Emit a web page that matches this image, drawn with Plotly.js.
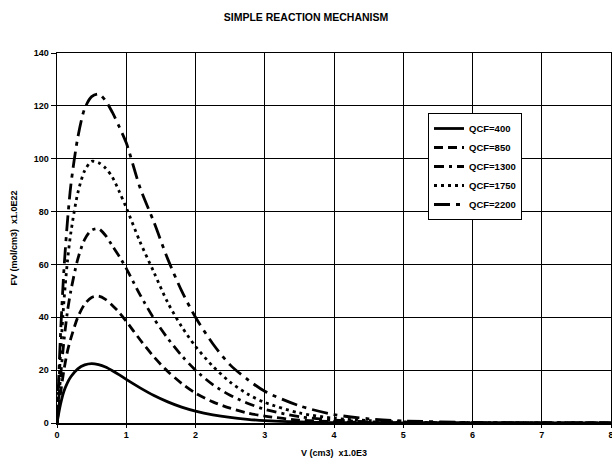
<!DOCTYPE html>
<html>
<head>
<meta charset="utf-8">
<script src="https://cdn.plot.ly/plotly-3.0.1.min.js"></script>
<style>html,body{margin:0;padding:0;background:#fff;}#chart{width:612px;height:464px;}</style>
</head>
<body>
<div id="chart"></div>
<script>
// V (cm3) x1.0E3
const V = [0, 0.05, 0.1, 0.15, 0.2, 0.3, 0.4, 0.5, 0.6, 0.7, 0.8, 0.9, 1.0, 1.2, 1.4, 1.6, 1.8, 2.0, 2.25, 2.5, 2.75, 3.0, 3.5, 4.0, 4.5, 5.0, 6.0, 7.0, 8.0];
// FV (mol/cm3) x1.0E22
const qcf400  = [0, 7, 12, 15.2, 17.5, 20.5, 22, 22.5, 22.1, 21.2, 19.8, 18.2, 16.5, 13.3, 10.4, 8.0, 6.0, 4.5, 3.1, 2.1, 1.4, 0.9, 0.4, 0.16, 0.07, 0.03, 0, 0, 0];
const qcf850  = [0, 11, 20, 27, 32, 40, 45, 47.5, 48, 46.8, 44.5, 41.8, 38.5, 31.5, 25, 19.5, 15, 11.3, 8, 5.6, 3.8, 2.6, 1.1, 0.5, 0.2, 0.1, 0, 0, 0];
const qcf1300 = [0, 17, 31, 42, 50, 62, 69.5, 73, 73.5, 71, 67, 63, 58.5, 48.5, 39.5, 32, 25.5, 20, 14.5, 10.5, 7.5, 5.2, 2.4, 1.1, 0.5, 0.2, 0.05, 0, 0];
const qcf1750 = [0, 26, 46, 61, 72, 87, 95.5, 99, 98.5, 96.5, 93, 87.5, 81.5, 68.5, 57, 45.5, 36.5, 29, 21.5, 15.5, 11, 7.8, 3.8, 1.8, 0.9, 0.4, 0.1, 0, 0];
const qcf2200 = [0, 33, 58, 76, 90, 108, 119, 123.5, 124.5, 122, 117.5, 112, 106, 89, 76, 62, 50, 40, 30, 22, 16.5, 12, 6.5, 3.2, 1.6, 0.8, 0.2, 0.05, 0];
const seriesNames = ["QCF=400", "QCF=850", "QCF=1300", "QCF=1750", "QCF=2200"];
const xTicks = [0, 1, 2, 3, 4, 5, 6, 7, 8];
const yTicks = [0, 20, 40, 60, 80, 100, 120, 140];

const dashes = ["solid", "9px,5px", "10px,5px,3px,5px", "3px,4px", "16px,6px,4px,6px"];
const ys = [qcf400, qcf850, qcf1300, qcf1750, qcf2200];
const FONT = "Liberation Sans, Arial, sans-serif";

const traces = ys.map((y, i) => ({
  x: V, y: y, name: seriesNames[i], type: "scatter", mode: "lines",
  line: {color: "#000", width: 2.8, dash: dashes[i], shape: "spline", smoothing: 0.8}
}));

const layout = {
  width: 612, height: 464,
  margin: {l: 57, r: 1, t: 53, b: 41, pad: 0, autoexpand: false},
  paper_bgcolor: "#fff", plot_bgcolor: "#fff",
  font: {family: FONT, color: "#000", size: 9, weight: "bold"},
  title: {text: "<b>SIMPLE REACTION MECHANISM</b>", font: {family: FONT, size: 10.5, color: "#000"},
          x: 0.5, xanchor: "center", y: 1 - 17/464, yanchor: "middle", yref: "container"},
  xaxis: {range: [0, 8], tickvals: xTicks, ticktext: xTicks.map(String),
          showgrid: true, gridcolor: "#000", gridwidth: 1,
          showline: true, linecolor: "#000", linewidth: 1.5, mirror: true,
          ticks: "outside", ticklen: 3, tickwidth: 1, tickcolor: "#000",
          ticklabeloverflow: "allow",
          zeroline: false, fixedrange: true,
          tickfont: {family: FONT, size: 9, color: "#000", weight: "bold"},
          title: {text: "<b>V (cm3)  x1.0E3</b>", font: {family: FONT, size: 9, color: "#000"}, standoff: 10}},
  yaxis: {range: [0, 140], tickvals: yTicks, ticktext: yTicks.map(String),
          showgrid: true, gridcolor: "#000", gridwidth: 1,
          showline: true, linecolor: "#000", linewidth: 1.5, mirror: true,
          ticks: "outside", ticklen: 5, tickwidth: 1, tickcolor: "#000",
          zeroline: false, fixedrange: true,
          tickfont: {family: FONT, size: 9, color: "#000", weight: "bold"},
          title: {text: "<b>FV (mol/cm3)  x1.0E22</b>", font: {family: FONT, size: 9, color: "#000"}, standoff: 14}},
  showlegend: true,
  legend: {x: (428-57)/554, y: (423-113)/370, xanchor: "left", yanchor: "top",
           bgcolor: "#fff", bordercolor: "#000", borderwidth: 1,
           font: {family: FONT, size: 9.5, color: "#000", weight: "bold"},
           tracegroupgap: 0, itemwidth: 30}
};

Plotly.newPlot("chart", traces, layout, {staticPlot: true, displayModeBar: false});
</script>
</body>
</html>
